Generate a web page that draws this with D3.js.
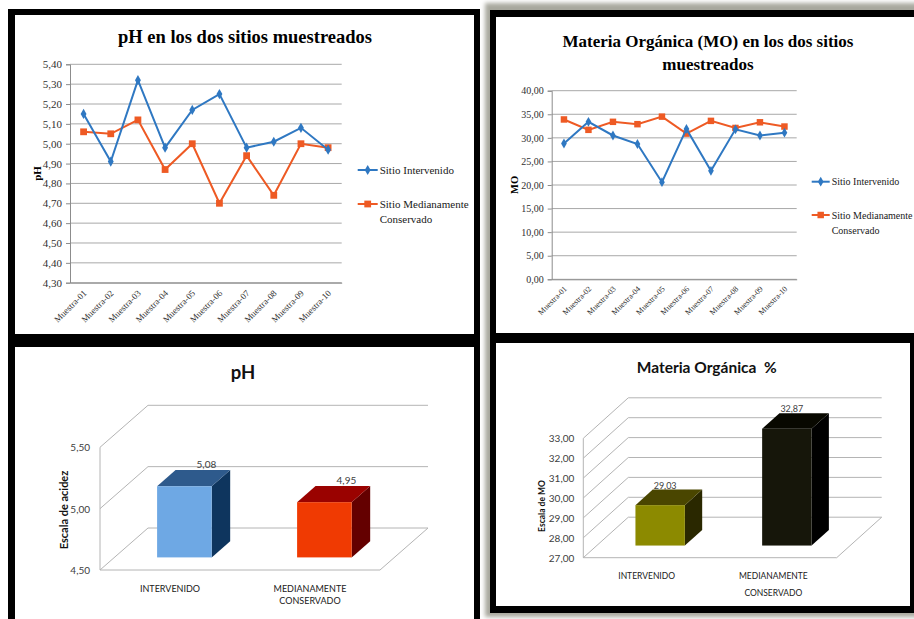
<!DOCTYPE html>
<html>
<head>
<meta charset="utf-8">
<script src="https://cdn.jsdelivr.net/npm/d3@7"></script>
<style>
  body { margin: 0; background: #fff; }
  svg { display: block; }
</style>
</head>
<body>
<svg id="fig" width="914" height="619"></svg>
<script>
// ---- Data ----
const muestras = ["Muestra-01","Muestra-02","Muestra-03","Muestra-04","Muestra-05",
                  "Muestra-06","Muestra-07","Muestra-08","Muestra-09","Muestra-10"];
const seriesNames = ["Sitio Intervenido", "Sitio Medianamente Conservado"];

const phIntervenido = [5.15, 4.91, 5.32, 4.98, 5.17, 5.25, 4.98, 5.01, 5.08, 4.97];
const phConservado  = [5.06, 5.05, 5.12, 4.87, 5.00, 4.70, 4.94, 4.74, 5.00, 4.98];
const phTicks = [4.3, 4.4, 4.5, 4.6, 4.7, 4.8, 4.9, 5.0, 5.1, 5.2, 5.3, 5.4];

const moIntervenido = [28.8, 33.4, 30.5, 28.7, 20.6, 31.9, 23.0, 31.8, 30.5, 31.1];
const moConservado  = [33.9, 31.7, 33.4, 32.9, 34.5, 30.9, 33.6, 32.1, 33.3, 32.4];
const moTicks = [0, 5, 10, 15, 20, 25, 30, 35, 40];

const sitios = ["INTERVENIDO", "MEDIANAMENTE CONSERVADO"];
const phPromedio = [5.08, 4.95];
const phBarTicks = [4.5, 5.0, 5.5];
const moPromedio = [29.03, 32.87];
const moBarTicks = [27, 28, 29, 30, 31, 32, 33];

// ---- Helpers ----
const svg = d3.select("#fig");
const fmt = v => d3.format(".2f")(v).replace(".", ",");
const SERIF = "'Liberation Serif','Times New Roman',serif";
const SANS = "Lato,'Liberation Sans',sans-serif";
const BLUE = "#2f78c2", ORANGE = "#ee5a24";

// ---- Panel frames ----
const defs = svg.append("defs");
defs.append("filter").attr("id", "shadow").attr("x", "-5%").attr("y", "-5%")
  .attr("width", "110%").attr("height", "110%")
  .append("feGaussianBlur").attr("stdDeviation", 2.2);

// left column
svg.append("rect").attr("x", 8).attr("y", 9).attr("width", 472).attr("height", 620).attr("fill", "#000");
svg.append("rect").attr("x", 15).attr("y", 15).attr("width", 459).attr("height", 319).attr("fill", "#fff");
svg.append("rect").attr("x", 15).attr("y", 347).attr("width", 459).attr("height", 280).attr("fill", "#fff");
// right column, with soft grey shadow
svg.append("rect").attr("x", 485).attr("y", 3).attr("width", 440).attr("height", 614)
  .attr("fill", "#a8a89e").attr("filter", "url(#shadow)");
svg.append("rect").attr("x", 490).attr("y", 10).attr("width", 430).attr("height", 603).attr("fill", "#000");
svg.append("rect").attr("x", 496).attr("y", 17).attr("width", 424).attr("height", 316).attr("fill", "#fff");
svg.append("rect").attr("x", 496).attr("y", 343).attr("width", 414).attr("height", 263).attr("fill", "#fff");

// ---- Line chart ----
function lineChart(c) {
  const g = svg.append("g");
  const x = d3.scalePoint().domain(muestras).range([c.left, c.right]).padding(0.5);
  const y = d3.scaleLinear().domain(c.domain).range([c.bottom, c.top]);

  // gridlines
  g.selectAll(".grid").data(c.ticks).join("line")
    .attr("x1", c.left).attr("x2", c.right)
    .attr("y1", d => y(d)).attr("y2", d => y(d))
    .attr("stroke", "#a8a8a8").attr("stroke-width", 1);

  // y axis
  const ya = g.append("g").attr("transform", `translate(${c.left},0)`)
    .call(d3.axisLeft(y).tickValues(c.ticks).tickFormat(fmt).tickSize(4).tickPadding(4));
  ya.select(".domain").attr("stroke", "#8c8c8c");
  ya.selectAll(".tick line").attr("stroke", "#8c8c8c");
  ya.selectAll("text").attr("font-family", SERIF).attr("font-size", c.tickSize).attr("fill", "#303030");

  // x axis
  const xa = g.append("g").attr("transform", `translate(0,${c.bottom})`)
    .call(d3.axisBottom(x).tickSize(0).tickPadding(0));
  xa.select(".domain").attr("stroke", "#8c8c8c");
  xa.selectAll("text")
    .attr("font-family", SERIF).attr("font-size", c.xlabSize).attr("fill", "#303030")
    .attr("text-anchor", "end").attr("dy", 0).attr("y", 0)
    .attr("transform", `translate(3,${c.xlabOff}) rotate(-45)`);

  // axis title
  g.append("text").attr("transform", `translate(${c.ytX},${(c.top + c.bottom) / 2}) rotate(-90)`)
    .attr("text-anchor", "middle").attr("dominant-baseline", "central")
    .attr("font-family", SERIF).attr("font-weight", "bold").attr("font-size", c.ytSize)
    .text(c.ytitle);

  // title
  c.title.forEach((t, i) => {
    g.append("text").attr("x", c.titleX).attr("y", c.titleY + i * c.titleGap)
      .attr("text-anchor", "middle").attr("font-family", SERIF).attr("font-weight", "bold")
      .attr("font-size", c.titleSize).text(t);
  });

  const line = d3.line().x((d, i) => x(muestras[i])).y(d => y(d));
  const sets = [
    { vals: c.s1, color: BLUE, sym: d3.symbolDiamond, size: c.diaSize },
    { vals: c.s2, color: ORANGE, sym: d3.symbolSquare, size: c.sqSize }
  ];
  sets.slice().reverse().forEach(s => {
    g.append("path").datum(s.vals).attr("d", line).attr("fill", "none")
      .attr("stroke", s.color).attr("stroke-width", 2);
    g.selectAll(null).data(s.vals).join("path")
      .attr("d", d3.symbol().type(s.sym).size(s.size))
      .attr("transform", (d, i) => `translate(${x(muestras[i])},${y(d)})`)
      .attr("fill", s.color);
  });

  // legend
  sets.forEach((s, i) => {
    const ly = c.legY[i];
    g.append("line").attr("x1", c.legX).attr("x2", c.legX + c.legLen)
      .attr("y1", ly).attr("y2", ly).attr("stroke", s.color).attr("stroke-width", 2);
    g.append("path").attr("d", d3.symbol().type(s.sym).size(s.size)())
      .attr("transform", `translate(${c.legX + c.legLen / 2},${ly})`).attr("fill", s.color);
    const words = i === 0 ? [seriesNames[0]] : ["Sitio Medianamente", "Conservado"];
    words.forEach((w, k) => {
      g.append("text").attr("x", c.legX + c.legLen + 2).attr("y", ly + k * c.legGap)
        .attr("dominant-baseline", "central")
        .attr("font-family", SERIF).attr("font-size", c.legSize).attr("fill", "#202020").text(w);
    });
  });
}

lineChart({
  left: 70, right: 341.7, top: 64.3, bottom: 282.7,
  domain: [4.3, 5.4], ticks: phTicks, s1: phIntervenido, s2: phConservado,
  tickSize: 11, xlabSize: 9, xlabOff: 11, ytX: 37, ytSize: 11, ytitle: "pH",
  title: ["pH en los dos sitios muestreados"], titleX: 245, titleY: 43, titleGap: 0, titleSize: 18.5,
  diaSize: 30, sqSize: 46,
  legX: 357.7, legLen: 20, legY: [170, 204], legGap: 14.5, legSize: 11
});

lineChart({
  left: 551.7, right: 796.7, top: 90.7, bottom: 279.3,
  domain: [0, 40], ticks: moTicks, s1: moIntervenido, s2: moConservado,
  tickSize: 10, xlabSize: 8, xlabOff: 10, ytX: 514, ytSize: 10.5, ytitle: "MO",
  title: ["Materia Orgánica (MO) en los dos sitios", "muestreados"], titleX: 708, titleY: 46.7, titleGap: 23.3, titleSize: 17,
  diaSize: 28, sqSize: 42,
  legX: 811.7, legLen: 18, legY: [181.7, 215], legGap: 15, legSize: 10
});

// ---- 3D column chart ----
function bar3d(c) {
  const g = svg.append("g");
  const y = d3.scaleLinear().domain(c.domain).range([c.floorY, c.topY]);
  const x = d3.scaleBand().domain(sitios).range([c.left, c.right]);
  const DX = c.dx, DY = c.dy, y0 = y(c.domain[0]);
  const gs = "#b4b4b4";

  // back wall gridlines
  g.selectAll(".bw").data(c.ticks).join("line")
    .attr("x1", c.left + DX).attr("x2", c.right + DX)
    .attr("y1", d => y(d) + DY).attr("y2", d => y(d) + DY)
    .attr("stroke", gs);
  // side wall
  g.selectAll(".sw").data(c.ticks).join("line")
    .attr("x1", c.left).attr("x2", c.left + DX)
    .attr("y1", d => y(d)).attr("y2", d => y(d) + DY)
    .attr("stroke", gs);
  g.append("line").attr("x1", c.left).attr("x2", c.left)
    .attr("y1", y0).attr("y2", y(c.domain[1])).attr("stroke", gs);
  // floor front edge and right edge
  g.append("line").attr("x1", c.left).attr("x2", c.right).attr("y1", y0).attr("y2", y0).attr("stroke", gs);
  g.append("line").attr("x1", c.right).attr("x2", c.right + DX).attr("y1", y0).attr("y2", y0 + DY).attr("stroke", gs);

  // tick labels
  g.selectAll(".tl").data(c.ticks).join("text")
    .attr("x", c.left - c.tickPad).attr("y", d => y(d)).attr("text-anchor", "end")
    .attr("dominant-baseline", "central").attr("font-family", SANS)
    .attr("font-size", c.tickSize).attr("fill", "#404040").text(fmt);

  // bars
  const bw = x.bandwidth() * 0.39, f0 = 0.3, fd = 0.385;
  const bars = c.values.map((v, i) => {
    const bx = x(sitios[i]) + (x.bandwidth() - bw) / 2 + f0 * DX;
    const bot = y0 + f0 * DY, top = y(v) + f0 * DY;
    return { v, i, bx, bot, top, ddx: fd * DX, ddy: fd * DY };
  });

  // value labels (drawn first, bar tops may cover them)
  g.selectAll(".vl").data(bars).join("text")
    .attr("x", d => d.bx + bw / 2 + c.labDx).attr("y", d => d.top + c.labDy)
    .attr("text-anchor", "middle").attr("dominant-baseline", "central")
    .attr("font-family", SANS).attr("font-size", c.labSize).attr("fill", "#404040")
    .text(d => fmt(d.v));

  bars.forEach(b => {
    const col = c.colors[b.i];
    g.append("polygon").attr("points", [
      [b.bx + bw, b.top], [b.bx + bw + b.ddx, b.top + b.ddy],
      [b.bx + bw + b.ddx, b.bot + b.ddy], [b.bx + bw, b.bot]].join(" "))
      .attr("fill", col[2]);
    g.append("polygon").attr("points", [
      [b.bx, b.top], [b.bx + bw, b.top],
      [b.bx + bw + b.ddx, b.top + b.ddy], [b.bx + b.ddx, b.top + b.ddy]].join(" "))
      .attr("fill", col[1]);
    g.append("rect").attr("x", b.bx).attr("y", b.top).attr("width", bw)
      .attr("height", b.bot - b.top).attr("fill", col[0]);
  });

  // category labels
  sitios.forEach(s => {
    const lines = s === "INTERVENIDO" ? [s] : ["MEDIANAMENTE", "CONSERVADO"];
    lines.forEach((t, k) => {
      g.append("text").attr("x", x(s) + x.bandwidth() / 2).attr("y", y0 + c.catOff + k * c.catGap)
        .attr("text-anchor", "middle").attr("font-family", SANS)
        .attr("font-size", c.catSize).attr("fill", "#202020").text(t);
    });
  });

  // titles
  g.append("text").attr("x", c.titleX).attr("y", c.titleY).attr("text-anchor", "middle")
    .style("white-space", "pre")
    .attr("font-family", SANS).attr("font-weight", "bold").attr("font-size", c.titleSize)
    .attr("fill", "#111").text(c.title);
  g.append("text").attr("transform", `translate(${c.ytX},${c.ytY}) rotate(-90)`)
    .attr("text-anchor", "middle").attr("dominant-baseline", "central")
    .attr("font-family", SANS).attr("font-weight", "bold").attr("font-size", c.ytSize)
    .attr("fill", "#111").text(c.ytitle);
}

bar3d({
  domain: [4.5, 5.5], ticks: phBarTicks, values: phPromedio,
  left: 100, right: 380, floorY: 570, topY: 447.3, dx: 48, dy: -42,
  colors: [["#6ea8e4", "#2e5a8c", "#0e355e"], ["#f03a02", "#9a0200", "#640000"]],
  tickSize: 10, tickPad: 10, labSize: 10, labDx: 22, labDy: -22,
  catOff: 21.5, catGap: 12.3, catSize: 9,
  title: "pH", titleX: 243, titleY: 379, titleSize: 18.5,
  ytitle: "Escala de acidez", ytX: 63, ytY: 510, ytSize: 11
});

bar3d({
  domain: [27, 33], ticks: moBarTicks, values: moPromedio,
  left: 583.3, right: 836.7, floorY: 557.7, topY: 438.3, dx: 45, dy: -40.5,
  colors: [["#8c8a00", "#4a4600", "#2a2800"], ["#16160a", "#080800", "#000000"]],
  tickSize: 10, tickPad: 9, labSize: 9, labDx: 5, labDy: -20,
  catOff: 21, catGap: 17, catSize: 8.5,
  title: "Materia Orgánica  %", titleX: 706.7, titleY: 373.3, titleSize: 15.5,
  ytitle: "Escala de MO", ytX: 542, ytY: 506, ytSize: 8.5
});
</script>
</body>
</html>
